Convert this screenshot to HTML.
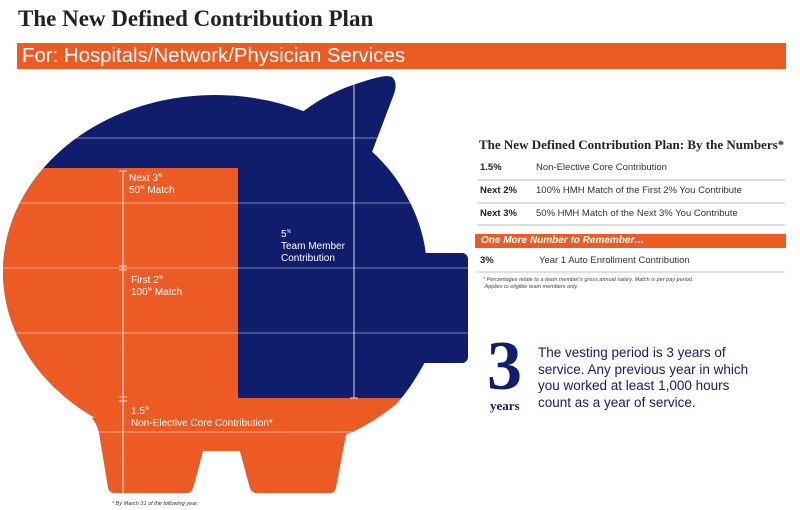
<!DOCTYPE html>
<html><head><meta charset="utf-8"><style>
body{margin:0;background:#fff;width:800px;height:510px;overflow:hidden;position:relative;font-family:"Liberation Sans",sans-serif}
.a{position:absolute;white-space:nowrap}
</style></head><body>
<div class="a" style="left:18px;top:6px;font-family:'Liberation Serif',serif;font-weight:bold;font-size:23px;color:#222">The New Defined Contribution Plan</div>
<div class="a" style="left:17px;top:43px;width:769px;height:26px;background:#ec5b24;color:#fff;font-size:20.4px;line-height:26px;padding-left:5px;box-sizing:border-box">For: Hospitals/Network/Physician Services</div>
<svg class="a" style="left:0;top:0" width="800" height="510">
<defs><clipPath id="p">
<ellipse cx="215" cy="272" rx="212" ry="177"/>
<path d="M 285,128 Q 315,96 362,82 Q 385,74 392,77 Q 398,82 394,94 L 372,152 L 330,160 Z"/>
<path d="M 330,140 L 370,150 Q 405,180 418,225 L 428,262 L 425,362 Q 410,390 395,405 Q 370,425 345,435 L 200,435 Z"/>
<rect x="380" y="253" width="88" height="110" rx="6"/>
<path d="M 92,418 Q 97,424 99,432 L 108,487 Q 109,493 115,493 L 186,493 Q 191,493 193,488 L 203,451 L 240,451 L 250,488 Q 252,493 257,493 L 330,493 Q 335,493 336,487 L 346,434 Q 350,428 355,425 Z"/>
</clipPath></defs>
<g clip-path="url(#p)">
<rect x="0" y="60" width="480" height="450" fill="#0f1d6c"/>
<rect x="0" y="168" width="238" height="240" fill="#ec5b24"/>
<rect x="0" y="398" width="480" height="112" fill="#ec5b24"/>
<g stroke="#fff" stroke-opacity="0.6" stroke-width="0.8">
<line x1="0" y1="138" x2="480" y2="138"/><line x1="0" y1="203" x2="480" y2="203"/>
<line x1="0" y1="268" x2="480" y2="268"/><line x1="0" y1="333" x2="480" y2="333"/>
<line x1="0" y1="432" x2="480" y2="432"/>
</g>
</g>
<g stroke="#fff" stroke-opacity="0.8" stroke-width="1">
<line x1="354" y1="78" x2="354" y2="398"/><line x1="350" y1="78" x2="358" y2="78"/><line x1="350" y1="398" x2="358" y2="398"/>
<line x1="123" y1="171" x2="123" y2="495"/>
<line x1="119" y1="171" x2="127" y2="171"/><line x1="119" y1="266" x2="127" y2="266"/><line x1="119" y1="270" x2="127" y2="270"/>
<line x1="119" y1="397" x2="127" y2="397"/><line x1="119" y1="401" x2="127" y2="401"/><line x1="119" y1="495" x2="127" y2="495"/>
</g>
<g fill="#fff" font-size="10" font-family="Liberation Sans,sans-serif">
<text x="129" y="181">Next 3<tspan font-size="5" dy="-4">%</tspan></text>
<text x="129" y="193">50<tspan font-size="5" dy="-4">%</tspan><tspan dy="4"> Match</tspan></text>
<text x="131" y="283">First 2<tspan font-size="5" dy="-4">%</tspan></text>
<text x="131" y="295">100<tspan font-size="5" dy="-4">%</tspan><tspan dy="4"> Match</tspan></text>
<text x="131" y="414">1.5<tspan font-size="5" dy="-4">%</tspan></text>
<text x="131" y="426">Non-Elective Core Contribution*</text>
<text x="281" y="237">5<tspan font-size="5" dy="-4">%</tspan></text>
<text x="281" y="249">Team Member</text>
<text x="281" y="261">Contribution</text>
</g>
<text x="112" y="505" font-size="5.5" font-style="italic" fill="#333">* By March 31 of the following year.</text>
<g stroke="#b8bdd0" stroke-width="1">
<line x1="477" y1="180" x2="785" y2="180"/><line x1="477" y1="203" x2="785" y2="203"/>
<line x1="477" y1="225" x2="785" y2="225"/><line x1="477" y1="272" x2="785" y2="272"/>
</g>
<rect x="475" y="234" width="311" height="14" fill="#ec5b24"/>
</svg>
<div class="a" style="left:479px;top:137px;font-family:'Liberation Serif',serif;font-weight:bold;font-size:13px;color:#222">The New Defined Contribution Plan: By the Numbers*</div>
<div class="a" style="left:480px;top:162px;font-size:9.5px;color:#222;font-weight:bold">1.5%</div>
<div class="a" style="left:536px;top:162px;font-size:9.5px;color:#333">Non-Elective Core Contribution</div>
<div class="a" style="left:480px;top:185px;font-size:9.5px;color:#222;font-weight:bold">Next 2%</div>
<div class="a" style="left:536px;top:185px;font-size:9.5px;color:#333">100% HMH Match of the First 2% You Contribute</div>
<div class="a" style="left:480px;top:208px;font-size:9.5px;color:#222;font-weight:bold">Next 3%</div>
<div class="a" style="left:536px;top:208px;font-size:9.5px;color:#333">50% HMH Match of the Next 3% You Contribute</div>
<div class="a" style="left:481px;top:235px;font-size:10px;color:#fff;font-weight:bold;font-style:italic">One More Number to Remember…</div>
<div class="a" style="left:480px;top:255px;font-size:9.5px;color:#222;font-weight:bold">3%</div>
<div class="a" style="left:539px;top:255px;font-size:9.5px;color:#333">Year 1 Auto Enrollment Contribution</div>
<div class="a" style="left:483px;top:277px;font-size:5.5px;color:#444;font-style:italic;line-height:7px">* Percentages relate to a team member's gross annual salary. Match is per pay period.<br>&nbsp;Applies to eligible team members only.</div>
<div class="a" style="left:487px;top:332px;font-family:'Liberation Serif',serif;font-weight:bold;font-size:70px;line-height:70px;color:#0f1d6c">3</div>
<div class="a" style="left:490px;top:398px;font-family:'Liberation Serif',serif;font-weight:bold;font-size:13px;color:#0f1d6c">years</div>
<div class="a" style="left:538px;top:345px;font-size:13.5px;line-height:16.5px;color:#0f1d6c">The vesting period is 3 years of<br>service. Any previous year in which<br>you worked at least 1,000 hours<br>count as a year of service.</div>
</body></html>
